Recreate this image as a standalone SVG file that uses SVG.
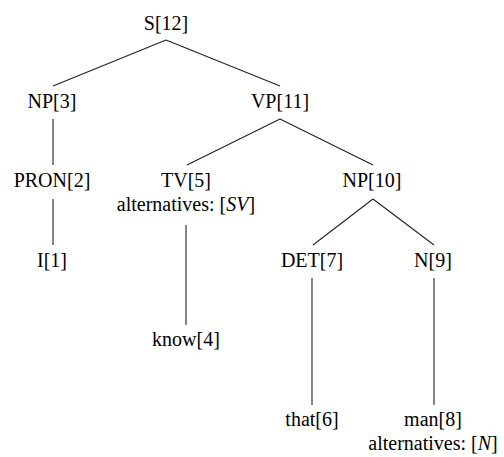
<svg xmlns="http://www.w3.org/2000/svg" width="504" height="457" viewBox="0 0 504 457">
<style>
text{font-family:"Liberation Serif","Times New Roman",serif;font-size:20px;fill:#000;text-anchor:middle}
.it{font-style:italic}
.e line{stroke:#222;stroke-width:1.1}
</style>
<rect width="504" height="457" fill="#fff"/>
<!-- parse tree edges -->
<g class="e" id="edges">
<line x1="166" y1="40" x2="53" y2="86"/>
<line x1="166" y1="40" x2="280" y2="86"/>
<line x1="53" y1="119" x2="53" y2="165"/>
<line x1="280" y1="119" x2="187" y2="165"/>
<line x1="280" y1="119" x2="373" y2="165"/>
<line x1="53" y1="199" x2="53" y2="245"/>
<line x1="186" y1="225" x2="186" y2="325"/>
<line x1="373" y1="199" x2="313" y2="245"/>
<line x1="373" y1="199" x2="434" y2="245"/>
<line x1="312" y1="278" x2="312" y2="405"/>
<line x1="434" y1="278" x2="434" y2="405"/>
</g>
<g id="s12"><text x="166" y="30">S[12]</text></g>
<g id="np3"><text x="52" y="108">NP[3]</text></g>
<g id="vp11"><text x="280" y="108">VP[11]</text></g>
<g id="pron2"><text x="52" y="187">PRON[2]</text></g>
<g id="tv5"><text x="186" y="187">TV[5]</text><text x="186" y="211">alternatives: [<tspan class="it">SV</tspan>]</text></g>
<g id="np10"><text x="372" y="187">NP[10]</text></g>
<g id="i1"><text x="52" y="267">I[1]</text></g>
<g id="det7"><text x="312" y="267">DET[7]</text></g>
<g id="n9"><text x="433" y="267">N[9]</text></g>
<g id="know4"><text x="186" y="346">know[4]</text></g>
<g id="that6"><text x="312" y="426">that[6]</text></g>
<g id="man8"><text x="433" y="426">man[8]</text><text x="433" y="450">alternatives: [<tspan class="it">N</tspan>]</text></g>
</svg>
